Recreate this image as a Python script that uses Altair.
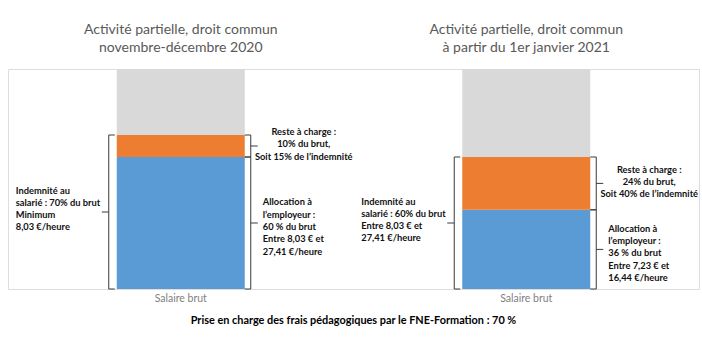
import altair as alt
import pandas as pd

# ---------------- data ----------------
panels = ["2020", "2021"]
titles = [
    "Activité partielle, droit commun\nnovembre-décembre  2020",
    "Activité partielle, droit commun\nà partir du 1er janvier 2021",
]
allocation = [60, 36]   # % du brut pris en charge par l'allocation
reste = [10, 24]        # % du brut restant à charge de l'employeur
total = [100, 100]      # salaire brut
left_notes = [
    "Indemnité au\nsalarié : 70% du brut\nMinimum\n8,03 €/heure",
    "Indemnité au\nsalarié : 60% du brut\nEntre 8,03 € et\n27,41 €/heure",
]
reste_notes = [
    "Reste à charge :\n10% du brut,\nSoit 15% de l’indemnité",
    "Reste à charge :\n24% du brut,\nSoit 40% de l’indemnité",
]
alloc_notes = [
    "Allocation à\nl’employeur :\n60 % du brut\nEntre 8,03 € et\n27,41 €/heure",
    "Allocation à\nl’employeur :\n36 % du brut\nEntre 7,23 € et\n16,44 €/heure",
]
x_label = "Salaire brut"
footer = "Prise en charge des frais pédagogiques par le FNE-Formation : 70 %"

segments = ["Allocation", "Reste à charge", "Reste du salaire"]
seg_colors = ["#5B9BD5", "#ED7D31", "#D9D9D9"]

# ---------------- tables ----------------
bar_rows = []
for p, a, r, t in zip(panels, allocation, reste, total):
    bar_rows.append(dict(panel=p, seg=segments[0], lo=0, hi=a))
    bar_rows.append(dict(panel=p, seg=segments[1], lo=a, hi=a + r))
    bar_rows.append(dict(panel=p, seg=segments[2], lo=a + r, hi=t))
bars_df = pd.DataFrame(bar_rows)

brace_rows = []
for i, p in enumerate(panels):
    a, r = allocation[i], reste[i]
    brace_rows.append(dict(panel=p, side="left", kind="indemnite", lo=0, hi=a + r, note=left_notes[i]))
    brace_rows.append(dict(panel=p, side="right", kind="reste", lo=a, hi=a + r, note=reste_notes[i]))
    brace_rows.append(dict(panel=p, side="right", kind="allocation", lo=0, hi=a, note=alloc_notes[i]))
braces_df = pd.DataFrame(brace_rows)
braces_df["mid"] = (braces_df["lo"] + braces_df["hi"]) / 2

titles_df = pd.DataFrame(dict(panel=panels, title=titles, top=total))

# ---------------- encodings ----------------
FONT = "Lato"
INK = "#3a3a3a"
LH = 12.3

x_enc = alt.X(
    "panel:N",
    scale=alt.Scale(domain=panels, paddingInner=0.6295, paddingOuter=0.3148, round=False),
    axis=alt.Axis(
        title=None, labelExpr="'" + x_label + "'", domain=False, ticks=False,
        labelColor="#7f7f7f", labelFontSize=10.5, labelFont=FONT, labelPadding=4,
        labelAngle=0, grid=False,
    ),
)
y_scale = alt.Scale(domain=[0, 100])

bars = alt.Chart(bars_df).mark_bar(strokeWidth=0).encode(
    x=x_enc,
    y=alt.Y("lo:Q", scale=y_scale, axis=None),
    y2="hi:Q",
    color=alt.Color("seg:N", scale=alt.Scale(domain=segments, range=seg_colors), legend=None),
)

base_b = alt.Chart(braces_df)


def brace(side, v_off, hook_off, tip_off, hook_len=6, tip_len=7):
    src = base_b.transform_filter(alt.datum.side == side)
    vert = src.mark_rule(color=INK, strokeWidth=1, xOffset=v_off).encode(
        x=x_enc, y=alt.Y("lo:Q", scale=y_scale, axis=None), y2="hi:Q"
    )
    hook_top = src.mark_tick(color=INK, opacity=1, thickness=1, size=hook_len,
                             orient="horizontal", xOffset=hook_off).encode(
        x=x_enc, y=alt.Y("hi:Q", scale=y_scale, axis=None)
    )
    hook_bot = src.mark_tick(color=INK, opacity=1, thickness=1, size=hook_len,
                             orient="horizontal", xOffset=hook_off).encode(
        x=x_enc, y=alt.Y("lo:Q", scale=y_scale, axis=None)
    )
    tip = src.mark_tick(color=INK, opacity=1, thickness=1, size=tip_len,
                        orient="horizontal", xOffset=tip_off).encode(
        x=x_enc, y=alt.Y("mid:Q", scale=y_scale, axis=None)
    )
    return [vert, hook_top, hook_bot, tip]


left_brace = brace("left", -72, -69, -75.5)
right_brace = brace("right", 70, 67, 73.5)

note_style = dict(font=FONT, fontSize=9.3, fontWeight="bold", color="#111111",
                  lineBreak="\n", lineHeight=LH, baseline="middle")

# first line is anchored; shift so each block is centred near its brace tip
left_text = base_b.transform_filter(alt.datum.side == "left").mark_text(
    align="left", dx=-165, dy=-3 - 1.5 * LH, **note_style
).encode(x=x_enc, y=alt.Y("mid:Q", scale=y_scale, axis=None), text="note:N")

reste_text = base_b.transform_filter(alt.datum.kind == "reste").mark_text(
    align="center", dx=123, dy=-1.5 - 1.0 * LH, **note_style
).encode(x=x_enc, y=alt.Y("mid:Q", scale=y_scale, axis=None), text="note:N")

alloc_text = base_b.transform_filter(alt.datum.kind == "allocation").mark_text(
    align="left", dx=82, dy=4 - 2.0 * LH, **note_style
).encode(x=x_enc, y=alt.Y("mid:Q", scale=y_scale, axis=None), text="note:N")

title_text = alt.Chart(titles_df).mark_text(
    font=FONT, fontSize=14, color="#595959", lineBreak="\n", lineHeight=18,
    baseline="middle", align="center", dy=-39,
).encode(x=x_enc, y=alt.Y("top:Q", scale=y_scale, axis=None), text="title:N")

chart = alt.layer(
    bars, *left_brace, *right_brace, left_text, reste_text, alloc_text, title_text
).properties(
    width=691,
    height=220,
    padding={"left": 8, "top": 69, "right": 3, "bottom": 56},
    autosize=alt.AutoSizeParams(type="none"),
    title=alt.TitleParams(
        text=footer, orient="bottom", anchor="middle", font=FONT, fontSize=10.9,
        fontWeight="bold", color="#000000", offset=11,
    ),
).configure_view(stroke=None).configure(background="white")

chart.save("out.html", embed_options={"renderer": "svg", "actions": False})
